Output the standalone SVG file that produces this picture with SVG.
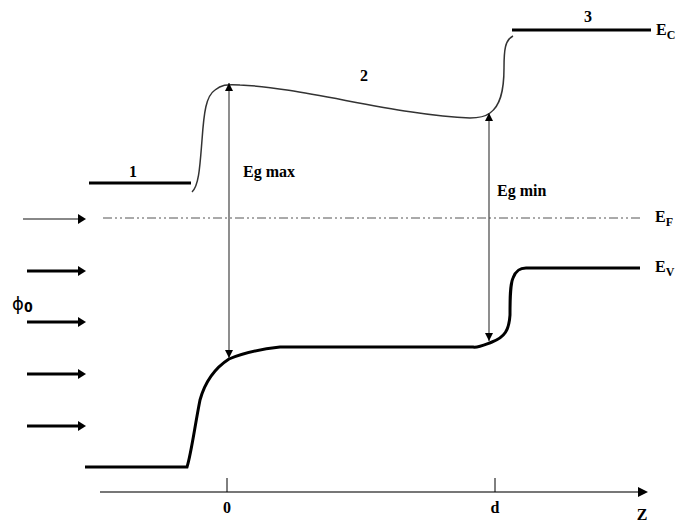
<svg xmlns="http://www.w3.org/2000/svg" width="685" height="525" viewBox="0 0 685 525">
<style>
.lbl{font-family:"Liberation Serif","Times New Roman",serif;font-weight:bold;font-size:16px;fill:#000}
.sub{font-size:12px}
.band{fill:none;stroke:#000;stroke-width:3}
.curve{fill:none;stroke:#333;stroke-width:1.5}
.thin{fill:none;stroke:#444;stroke-width:1.2}
.flux{stroke:#000;stroke-width:3}
</style>
<defs>
<marker id="tri" viewBox="0 0 10 10" refX="10" refY="5" markerWidth="8" markerHeight="8" markerUnits="userSpaceOnUse" orient="auto-start-reverse"><path d="M0,0 L10,5 L0,10 z" fill="#000"/></marker>
<marker id="fa" viewBox="0 0 10 10" refX="10" refY="5" markerWidth="9" markerHeight="9" markerUnits="userSpaceOnUse" orient="auto"><path d="M0,0 L10,5 L0,10 z" fill="#000"/></marker>
</defs>
<rect width="685" height="525" fill="#fff"/>
<g id="conduction-band">
<line class="band" x1="89" y1="183" x2="191" y2="183"/>
<path class="curve" d="M192,192 C199,186 200,165 202,140 C204,112 206,96 215,90 C221,85 226,84 240,85 C300,87 400,116 470,118 C480,118 486,116 490,113 C500,106 504,92 504,68 C504,50 505,40 513,36"/>
<line class="band" x1="512" y1="30" x2="651" y2="30"/>
</g>
<g id="valence-band">
<path class="band" d="M85,467 L187,467 C191,455 195,425 200,400 C205,382 215,368 229,359 C245,352 262,349 280,347 L473,347 C478,348 484,345 492,342 C505,337 509,330 510,315 C510,298 510,285 513,278 C516,270 520,268 526,268 L640,268"/>
</g>
<g id="fermi-level">
<line x1="103" y1="218" x2="640" y2="218" stroke="#555" stroke-width="1" stroke-dasharray="9,3,2,3,2,3"/>
</g>
<g id="connectors">
<line class="thin" x1="229" y1="83" x2="229" y2="358" marker-start="url(#tri)" marker-end="url(#tri)"/>
<line class="thin" x1="489" y1="113" x2="489" y2="341" marker-start="url(#tri)" marker-end="url(#tri)"/>
<line x1="23" y1="219" x2="80" y2="219" stroke="#888" stroke-width="2"/><path d="M78,214 L86,219 L78,224 z"/>
<line class="flux" x1="27" y1="271" x2="80" y2="271"/><path d="M78,266 L86,271 L78,276 z"/>
<line class="flux" x1="27" y1="322" x2="80" y2="322"/><path d="M78,317 L86,322 L78,327 z"/>
<line class="flux" x1="27" y1="374" x2="80" y2="374"/><path d="M78,369 L86,374 L78,379 z"/>
<line class="flux" x1="27" y1="426" x2="80" y2="426"/><path d="M78,421 L86,426 L78,431 z"/>
</g>
<g id="axis">
<line x1="100" y1="492" x2="640" y2="492" stroke="#777" stroke-width="2"/>
<path d="M638,487 L648,492 L638,497 z" fill="#000"/>
<line x1="227" y1="478" x2="227" y2="492" stroke="#000" stroke-width="1"/>
<line x1="495" y1="478" x2="495" y2="492" stroke="#000" stroke-width="1"/>
</g>
<g id="labels">
<text class="lbl" x="133" y="177" text-anchor="middle">1</text>
<text class="lbl" x="364" y="81" text-anchor="middle">2</text>
<text class="lbl" x="588" y="22" text-anchor="middle">3</text>
<text class="lbl" x="243" y="177">Eg max</text>
<text class="lbl" x="497" y="196">Eg min</text>
<text class="lbl" x="656" y="35">E<tspan class="sub" dy="4">C</tspan></text>
<text class="lbl" x="655" y="222">E<tspan class="sub" dy="4">F</tspan></text>
<text class="lbl" x="655" y="272">E<tspan class="sub" dy="4">V</tspan></text>
<text x="12" y="310" font-family="'DejaVu Sans','Liberation Sans',sans-serif" font-size="18" fill="#000">ϕ<tspan font-family="'DejaVu Sans Condensed','DejaVu Sans',sans-serif" font-size="14" font-weight="bold" dy="2">0</tspan></text>
<text class="lbl" x="227" y="513" text-anchor="middle">0</text>
<text class="lbl" x="495" y="513" text-anchor="middle">d</text>
<text class="lbl" x="642" y="520" text-anchor="middle">Z</text>
</g>
</svg>
